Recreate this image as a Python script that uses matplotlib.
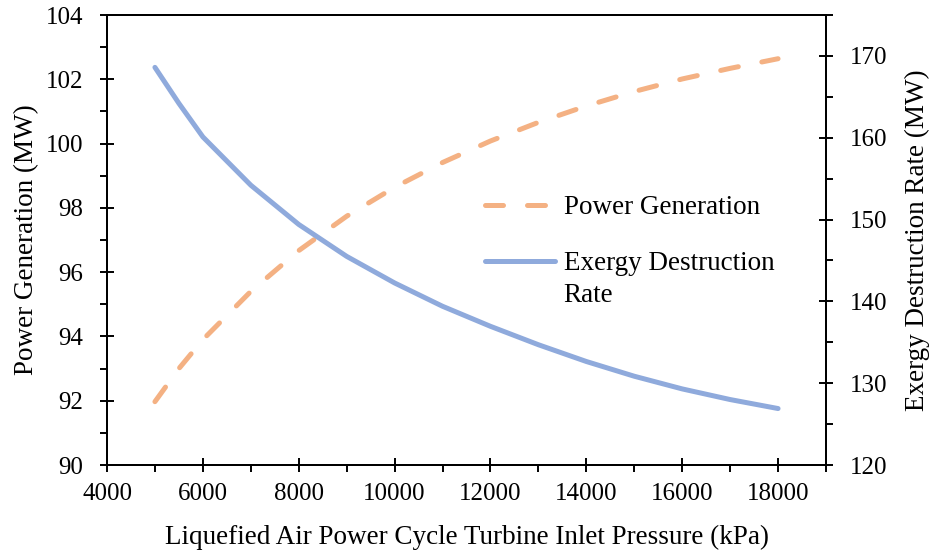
import matplotlib
matplotlib.use("Agg")
import matplotlib.pyplot as plt
from matplotlib.ticker import MultipleLocator

plt.rcParams['font.family'] = ['Liberation Serif', 'DejaVu Serif']
plt.rcParams['font.size'] = 18

# turbine inlet pressure (kPa)
pressure = [5000, 5500, 6000, 7000, 8000, 9000, 10000, 11000, 12000,
            13000, 14000, 15000, 16000, 17000, 18000]
# net power generation (MW)
power = [91.97, 93.0, 93.9, 95.4, 96.67, 97.74, 98.64, 99.41, 100.08,
         100.66, 101.17, 101.62, 102.01, 102.34, 102.64]
# exergy destruction rate (MW)
exergy = [168.6, 164.2, 160.1, 154.2, 149.4, 145.5, 142.25, 139.4, 136.95,
          134.7, 132.65, 130.85, 129.3, 128.0, 126.9]

orange = "#F4B183"
blue = "#8FAADC"
label_size = 19.5

fig = plt.figure(figsize=(9.3, 5.52), dpi=100)
ax = fig.add_axes([107/930, 87/552, 719/930, 450/552])
ax2 = ax.twinx()

l1, = ax.plot(pressure, power, color=orange, lw=3.6, dashes=(3.6, 4.8),
              dash_capstyle="round", solid_capstyle="round",
              solid_joinstyle="round", label="Power Generation")
l2, = ax2.plot(pressure, exergy, color=blue, lw=3.6, solid_capstyle="round",
               solid_joinstyle="round", label="Exergy Destruction")

ax.set_xlim(4000, 19000)
ax.set_ylim(90, 104)
ax2.set_ylim(120, 175)

ax.set_xticks(range(4000, 18001, 2000))
ax.xaxis.set_minor_locator(MultipleLocator(1000))
ax.yaxis.set_major_locator(MultipleLocator(2))
ax.yaxis.set_minor_locator(MultipleLocator(1))
ax2.set_yticks(range(120, 171, 10))
ax2.yaxis.set_minor_locator(MultipleLocator(5))

for a in (ax, ax2):
    for s in a.spines.values():
        s.set_linewidth(1.4)
    a.tick_params(which="major", direction="inout", length=10, width=1.4)
    a.tick_params(which="minor", direction="out", length=5, width=1.4)
ax.tick_params(axis="y", which="major", pad=12)
ax2.tick_params(axis="y", which="major", pad=12)
ax.tick_params(axis="x", which="major", pad=8)

ax.set_xlabel("Liquefied Air Power Cycle Turbine Inlet Pressure (kPa)",
              fontsize=label_size, labelpad=14)
ax.set_ylabel("Power Generation (MW)", fontsize=label_size, labelpad=5)
ax2.set_ylabel("Exergy Destruction Rate (MW)", fontsize=label_size, labelpad=13)

leg = ax2.legend(handles=[l1, l2], loc="upper left",
                 bbox_to_anchor=(485/930, 1 - 195/552),
                 bbox_transform=fig.transFigure, frameon=False,
                 fontsize=label_size, handlelength=2.6, handletextpad=0.3,
                 labelspacing=1.15, borderpad=0, borderaxespad=0)

# second line of the exergy label, set under the legend entry
fig.canvas.draw()
bb = leg.get_texts()[1].get_window_extent()
x0, y0 = fig.transFigure.inverted().transform((bb.x0, bb.y0))
fig.text(x0, y0 - 0.012, "Rate", ha="left", va="top", fontsize=label_size)

fig.savefig("out.png", dpi=100)
